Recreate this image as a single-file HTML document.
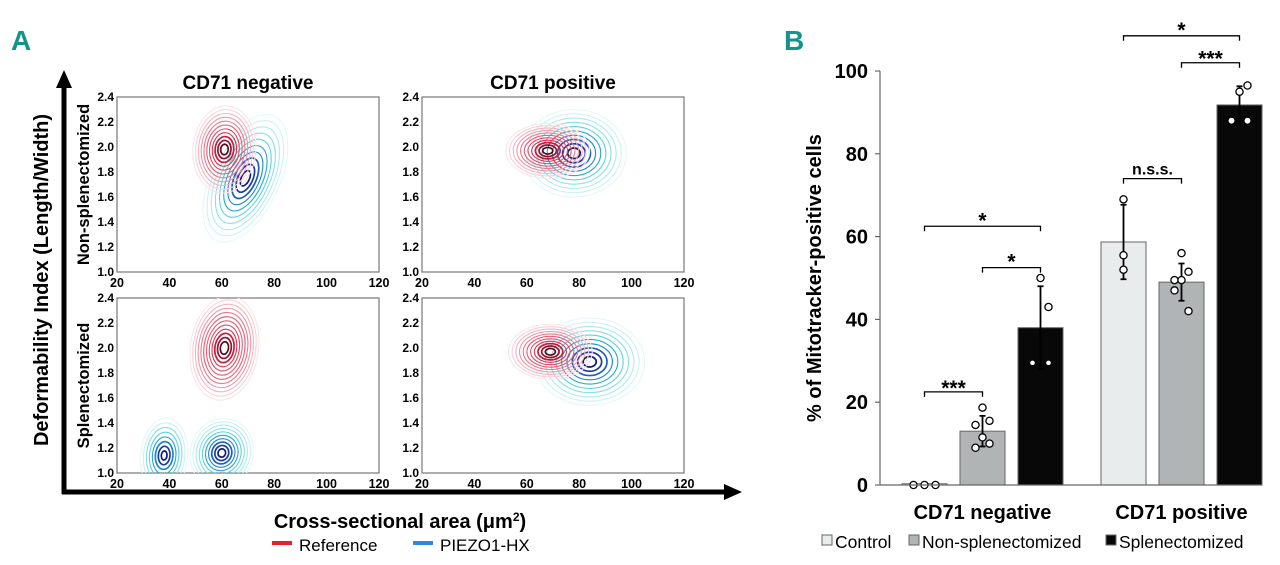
<!DOCTYPE html>
<html><head><meta charset="utf-8">
<style>
html,body{margin:0;padding:0;background:#fff;}
svg{display:block;font-family:"Liberation Sans",Arial,sans-serif;}
</style></head>
<body>
<svg id="fig" width="1280" height="565" viewBox="0 0 1280 565" xmlns="http://www.w3.org/2000/svg">
<text x="11" y="50" font-size="28" font-weight="bold" fill="#15928a">A</text>
<text x="784" y="50" font-size="28" font-weight="bold" fill="#15928a">B</text>
<g id="panelA"></g>
<g id="panelB"></g>
</svg>
<script>
const NS='http://www.w3.org/2000/svg';
function mk(parent,tag,attrs,txt){const e=document.createElementNS(NS,tag);for(const k in attrs)e.setAttribute(k,attrs[k]);if(txt!==undefined)e.textContent=txt;parent.appendChild(e);return e;}

/* ---------- Panel A data ---------- */
const xTicksA=[20,40,60,80,100,120];
const yTicksA=[1.0,1.2,1.4,1.6,1.8,2.0,2.2,2.4];
const colTitles=['CD71 negative','CD71 positive'];
const rowTitles=['Non-splenectomized','Splenectomized'];
const peakPanel=[0,0,1,1,2,2,2,3,3];
const peakSeries=['ref','hx','ref','hx','ref','hx','hx','ref','hx'];
const peakX=[61,69,68,78,61,60,38,69,84];
const peakY=[1.98,1.75,1.97,1.95,2.0,1.16,1.14,1.97,1.89];
const peakSX=[12,13,16,20,13,12,9,16,21];
const peakSY=[0.35,0.55,0.22,0.35,0.42,0.28,0.3,0.22,0.35];
const peakTilt=[5,25,0,0,8,20,5,0,0];
const peakLevels=[11,10,11,10,12,10,8,11,10];

const panelA=document.getElementById('panelA');
const frames=[{x:117,y:97},{x:422,y:97},{x:117,y:298},{x:422,y:298}];
const FW=262,FH=175;
function px(f,v){return f.x+(v-20)/100*FW;}
function py(f,v){return f.y+FH-(v-1.0)/1.4*FH;}

frames.forEach((f,i)=>{
  const g=mk(panelA,'g',{});
  
  
  mk(g,'rect',{x:f.x,y:f.y,width:FW,height:FH,fill:'#fff',stroke:'#777','stroke-width':1.2});
  xTicksA.forEach(t=>{const e=mk(g,'text',{x:px(f,t),y:f.y+FH+15,'font-size':12.5,'font-weight':'bold','text-anchor':'middle'},t);
    });
  yTicksA.forEach(t=>{const e=mk(g,'text',{x:f.x-3,y:py(f,t)+4,'font-size':12,'font-weight':'bold','text-anchor':'end'},t.toFixed(1));
    });
  const cg=mk(g,'g',{});
  
  f.cg=cg;
});
const redPal=['#fbe4e8','#f8d0d8','#f4b4c0','#f096a6','#ec7a8e','#e85e76','#e44862','#dc3050','#c81c3c','#9a1030','#5a0a1c'];
const bluPal=['#e4f8fa','#ccf2f6','#acebf0','#86e0e8','#5cd2de','#38c2d2','#22a8d2','#1c86d0','#1a5ec0','#1a3aa0','#101a70'];
frames.forEach((f,i)=>{const cp=mk(panelA,'clipPath',{id:'clip'+i});mk(cp,'rect',{x:f.x,y:f.y,width:FW,height:FH});f.cg.setAttribute('clip-path','url(#clip'+i+')');});
['hx','ref'].forEach(s=>{
  peakPanel.forEach((p,i)=>{
    if(peakSeries[i]!==s)return;
    const f=frames[p];const n=peakLevels[i];const pal=s==='ref'?redPal:bluPal;
    const cx=px(f,peakX[i]),cy=py(f,peakY[i]);
    const rx=peakSX[i]/100*FW,ry=peakSY[i]/1.4*FH;
    for(let k=0;k<n;k++){
      const sc=1-k*(0.88/(n-1));
      const c=pal[Math.min(pal.length-1,Math.round(k*(pal.length-1)/(n-1)))];
      const e=mk(f.cg,'ellipse',{cx:cx,cy:cy,rx:rx*sc,ry:ry*sc,fill:'none',stroke:c,'stroke-width':k>n-4?1.7:1.1,transform:`rotate(${peakTilt[i]} ${cx} ${cy})`});
      
      
    }
  });
});
colTitles.forEach((t,i)=>{const e=mk(panelA,'text',{x:frames[i].x+FW/2,y:89,'font-size':19,'font-weight':'bold','text-anchor':'middle'},t);
  });
[97,298].forEach((y0,i)=>{const e=mk(panelA,'text',{x:0,y:0,'font-size':16.5,'font-weight':'bold','text-anchor':'middle',transform:`translate(89 ${y0+FH/2}) rotate(-90)`},rowTitles[i]);
  });
const ax=mk(panelA,'g',{});
mk(ax,'line',{x1:64,y1:494,x2:64,y2:86,stroke:'#000','stroke-width':5});
mk(ax,'polygon',{points:'56,88 72,88 64,70',fill:'#000'});
mk(ax,'line',{x1:62,y1:492,x2:726,y2:492,stroke:'#000','stroke-width':5});
mk(ax,'polygon',{points:'724,484 724,500 742,492',fill:'#000'});
let e=mk(panelA,'text',{x:0,y:0,'font-size':20,'font-weight':'bold','text-anchor':'middle',transform:'translate(48 280) rotate(-90)'},'Deformability Index (Length/Width)');

e=mk(panelA,'text',{x:400,y:528,'font-size':20,'font-weight':'bold','text-anchor':'middle'});
e.innerHTML='Cross-sectional area (μm<tspan dy="-7" font-size="12">2</tspan><tspan dy="7">)</tspan>';

const lg=mk(panelA,'g',{});
mk(lg,'rect',{x:272,y:541,width:20,height:4,fill:'#e8202a'});
mk(lg,'text',{x:299,y:551,'font-size':17},'Reference');
mk(lg,'rect',{x:413,y:541,width:20,height:4,fill:'#2a8ae0'});
mk(lg,'text',{x:440,y:551,'font-size':17},'PIEZO1-HX');

/* ---------- Panel B data ---------- */
const groups=['CD71 negative','CD71 positive'];
const seriesNames=['Control','Non-splenectomized','Splenectomized'];
const means=[[0.3,13,38],[58.7,49,91.8]];
const errs=[[0,3.7,10],[9,4.5,4.5]];
const pts=[[[0,0,0],[18.7,15.5,14.5,11.5,9,10],[50,43,29.5,29.5]],[[69,55.5,52],[56,51.5,49.5,49.5,47,42],[95,96.5,88,88]]];
const yTicksB=[0,20,40,60,80,100];
const sigLabels=['***','*','*','n.s.s.','***','*'];
const sigFrom=[[0,0],[0,1],[0,0],[1,0],[1,1],[1,0]];
const sigTo=[[0,1],[0,2],[0,2],[1,1],[1,2],[1,2]];
const sigY=[22.5,52.5,62.5,74,102,108.5];

const pB=document.getElementById('panelB');
const X0=880,X1=1262,Y0=485,Y100=71;
const yB=v=>Y0-(v/100)*(Y0-Y100);
const groupStart=[902,1101],barW=45,barStep=58;
const bx=(g,s)=>groupStart[g]+s*barStep;
const fills=['#e8ecec','#b0b4b4','#080808'];
mk(pB,'line',{x1:X0,y1:Y100,x2:X0,y2:Y0,stroke:'#666','stroke-width':1.2});
yTicksB.forEach(t=>{mk(pB,'line',{x1:X0-5,y1:yB(t),x2:X0,y2:yB(t),stroke:'#666','stroke-width':1.2});
  const e=mk(pB,'text',{x:X0-12,y:yB(t)+7,'font-size':20,'font-weight':'bold','text-anchor':'end'},t);
  });
e=mk(pB,'text',{x:0,y:0,'font-size':20,'font-weight':'bold','text-anchor':'middle',transform:'translate(821 278) rotate(-90)'},'% of Mitotracker-positive cells');

means.forEach((row,g)=>row.forEach((m,s)=>{
  const x=bx(g,s);
  const r=mk(pB,'rect',{x:x,y:yB(m),width:barW,height:yB(0)-yB(m),fill:fills[s],stroke:'#666','stroke-width':1});
  
  
  const cx=x+barW/2;
  if(errs[g][s]>0){const eb=mk(pB,'path',{d:`M${cx},${yB(m-errs[g][s])}V${yB(m+errs[g][s])}M${cx-3},${yB(m+errs[g][s])}H${cx+3}M${cx-3},${yB(m-errs[g][s])}H${cx+3}`,stroke:'#000','stroke-width':1.8,fill:'none'});
    }
  const arr=pts[g][s];
  arr.forEach((v,k)=>{
    const off=arr.length>=6?[0,7,-7,0,-7,7][k]:(arr.length===3&&s===0&&g===0?[-11,0,11][k]:(s===2?[0,8,-8,8][k]:[0,0,0][k]));
    const inBar=s===2&&v<m-5;
    const c=mk(pB,'circle',{cx:cx+off,cy:yB(v),r:inBar?2.3:3.6,fill:'#fff',stroke:inBar?'none':'#000','stroke-width':1.3});
    
  });
}));
mk(pB,'line',{x1:X0,y1:Y0,x2:X1,y2:Y0,stroke:'#666','stroke-width':1.2});
groups.forEach((t,g)=>{const e=mk(pB,'text',{x:bx(g,1)+barW/2,y:519,'font-size':20,'font-weight':'bold','text-anchor':'middle'},t);
  });
sigLabels.forEach((l,i)=>{
  const xa=bx(sigFrom[i][0],sigFrom[i][1])+barW/2,xb=bx(sigTo[i][0],sigTo[i][1])+barW/2,y=yB(sigY[i]);
  const g=mk(pB,'g',{});
  mk(g,'path',{d:`M${xa},${y+5}V${y}H${xb}V${y+5}`,stroke:'#000','stroke-width':1.3,fill:'none'});
  mk(g,'text',{x:(xa+xb)/2,y:l==='n.s.s.'?y-4:y+(l==='*'?1:3),'font-size':l==='n.s.s.'?16:21,'font-weight':'bold','text-anchor':'middle'},l);
});
const lgB=mk(pB,'g',{});
[[822,'Control'],[909,'Non-splenectomized'],[1106,'Splenectomized']].forEach(([x,t],s)=>{
  mk(lgB,'rect',{x:x,y:535,width:10,height:10,fill:fills[s],stroke:'#666','stroke-width':1});
  mk(lgB,'text',{x:x+13,y:548,'font-size':17.5},t);
});
</script>
</body></html>
